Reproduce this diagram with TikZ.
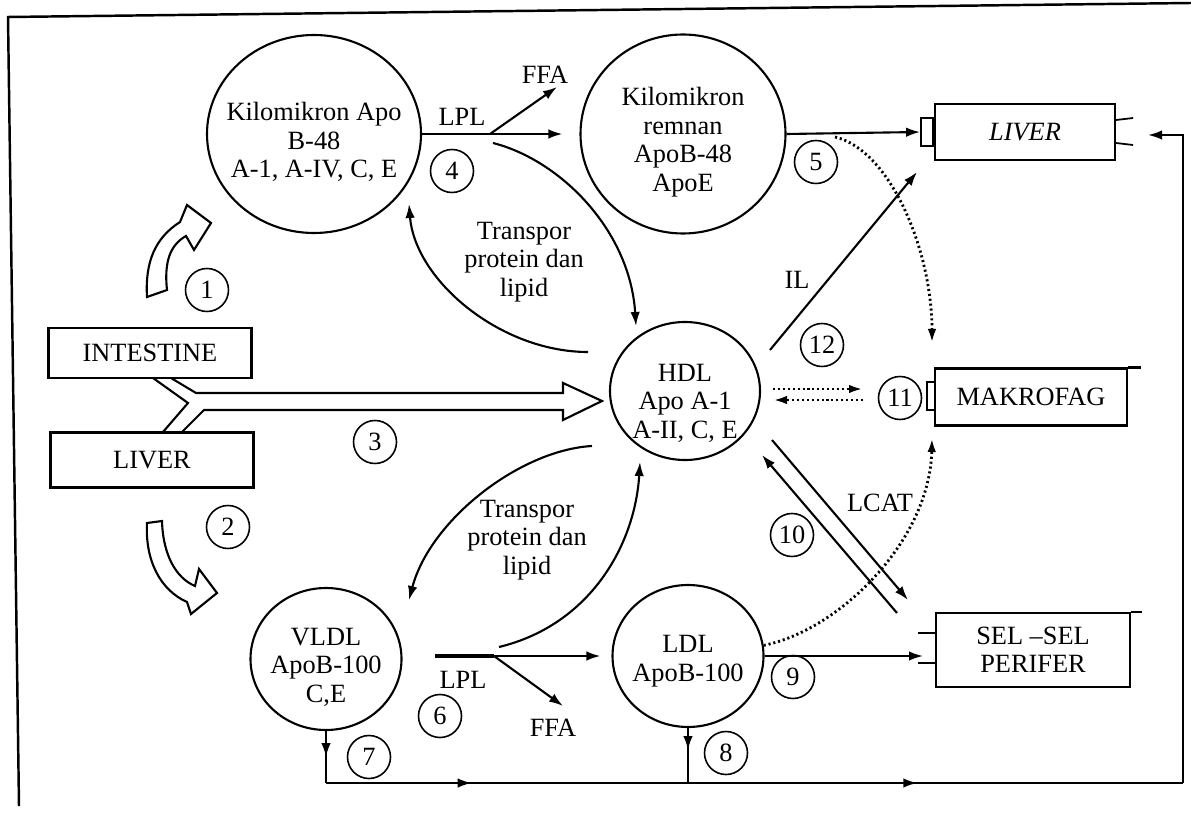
\documentclass[tikz,border=0pt]{standalone}
\usepackage{fontspec}
\setmainfont{Liberation Serif}
\usetikzlibrary{arrows.meta,positioning,shapes.geometric,decorations.markings}

\newcommand{\diagfont}{\fontsize{15}{16.2}\selectfont}

\tikzset{
  lipo/.style={ellipse,draw,line width=1.2pt,inner sep=0pt},
  lipotxt/.style={align=center,yshift=-1.6mm},
  organ/.style={rectangle,draw,line width=1.2pt,inner sep=0pt},
  recep/.style={rectangle,draw,line width=1pt,inner sep=0pt},
  num/.style={circle,draw,line width=0.9pt,minimum size=8.6mm,inner sep=0pt},
  flow/.style={line width=1.2pt,-{Latex[length=2.8mm,width=1.9mm]}},
  dotflow/.style={line width=1.6pt,dash pattern=on 1.2pt off 1.6pt,
                  -{Latex[length=2.8mm,width=1.7mm]}},
  hollow/.style={draw,fill=white,line width=1.2pt,line join=miter},
  midhead/.style={postaction={decorate,decoration={markings,
      mark=at position #1 with {\arrow{Latex[length=2.8mm,width=1.9mm]}}}}}
}

\begin{document}
\begin{tikzpicture}[x=0.2mm,y=-0.2mm,font=\diagfont]
\useasboundingbox (0,0) rectangle (1191,814);

% border of the scanned page
\draw[line width=1.4pt] (1191,3) -- (8,17) -- (19,806);

% organs and cells
\node[organ,minimum width=40.6mm,minimum height=10mm] (intest) at (150,353) {INTESTINE};
\node[organ,minimum width=40.6mm,minimum height=11mm] (liverL) at (152,460) {LIVER};
\node[organ,minimum width=36mm,minimum height=11.2mm,font=\diagfont\itshape] (liverR) at (1025,132) {LIVER};
\node[recep,minimum width=2.4mm,minimum height=5.6mm] (liverRec) at (927,132) {};
\node[organ,minimum width=38.4mm,minimum height=11.4mm] (makro) at (1031,397) {MAKROFAG};
\node[recep,minimum width=1.6mm,minimum height=5.6mm] (makroRec) at (931,396) {};
\node[organ,minimum width=38.8mm,minimum height=14.8mm,align=center] (sel) at (1033,650) {SEL –SEL\\PERIFER};
\draw[line width=1.2pt] (makro.north east) -- ++(13,0);
\draw[line width=1.2pt] (sel.north east) -- ++(11,0);
\draw[line width=1pt] ([yshift=2.4mm]liverR.east) -- ++(17,-2)
                      ([yshift=-2.2mm]liverR.east) -- ++(17,2);
\draw[line width=1pt] ([yshift=3.4mm]sel.west) -- ++(-17,0)
                      ([yshift=-2.6mm]sel.west) -- ++(-17,0);

% lipoproteins
\node[lipo,minimum width=42.8mm,minimum height=39.6mm,
      label={[lipotxt]center:{Kilomikron Apo\\B-48\\A-1, A-IV, C, E}}] (kilo) at (314,134) {};
\node[lipo,minimum width=41mm,minimum height=39.8mm,
      label={[lipotxt]center:{Kilomikron\\remnan\\ApoB-48\\ApoE}}] (remnan) at (683,134) {};
\node[lipo,minimum width=30mm,minimum height=27.6mm,
      label={[lipotxt,yshift=-0.8mm]center:{HDL\\Apo A-1\\A-II, C, E}}] (hdl) at (685,391) {};
\node[lipo,minimum width=30.2mm,minimum height=28.4mm,
      label={[lipotxt]center:{VLDL\\ApoB-100\\C,E}}] (vldl) at (326,659) {};
\node[lipo,minimum width=30.2mm,minimum height=28.4mm,
      label={[lipotxt,yshift=0.6mm]center:{LDL\\ApoB-100}}] (ldl) at (688,656) {};

% step numbers
\node[num] (n1) at (207,290) {1};
\node[num] (n2) at (228,527) {2};
\node[num] (n3) at (375,442) {3};
\node[num] (n4) at (452,171) {4};
\node[num] (n5) at (816,162) {5};
\node[num] (n6) at (440,716) {6};
\node[num] (n7) at (369,757) {7};
\node[num] (n8) at (726,753) {8};
\node[num] (n9) at (793,677) {9};
\node[num] (n10) at (792,535) {10};
\node[num] (n11) at (900,398) {11};
\node[num] (n12) at (822,345) {12};

% labels
\node (lplUp) at (462,117) {LPL};
\node (ffaUp) at (545,75) {FFA};
\node[align=center] (trUp) at (524,262) {Transpor\\protein dan\\lipid};
\node[align=center] (trLo) at (527,540) {Transpor\\protein dan\\lipid};
\node (lplLo) at (463,680) {LPL};
\node (ffaLo) at (553,728) {FFA};
\node (il) at (797,280) {IL};
\node (lcat) at (880,503) {LCAT};

% hollow arrows out of intestine and liver
\draw[hollow] (147,297) .. controls (145,262) and (155,238) .. (180,222) -- (187,205)
  -- (211,223) -- (194,250) -- (186,236) .. controls (170,245) and (164,262) .. (167,290) -- cycle;
\draw[hollow] (147,523) .. controls (145,560) and (160,590) .. (187,602) -- (191,614)
  -- (217,593) -- (199,569) -- (195,586) .. controls (176,578) and (163,555) .. (162,521) -- cycle;
\draw[line width=1.2pt,line join=miter] (153,378) -- (188,403) -- (163,432);
\draw[line width=1.2pt,line join=miter] (171,378) -- (196,393) -- (563,393) -- (563,383) -- (602,401)
  -- (563,420) -- (563,410) -- (204,410) -- (182,432);

% chylomicron and LPL
\coordinate (lplK) at (490,134);
\coordinate (cK) at (493,143);
\coordinate (hdlTop) at (636,326);
\coordinate (tpK) at (588,352);
\coordinate (kiloIn) at (409,204);
\draw[flow] (kilo.east) -- ([xshift=-3.4mm]remnan.west);
\draw[flow] (lplK) -- ++(67,-47);
\draw[flow] (cK) .. controls (560,160) and (630,230) .. (hdlTop);
\draw[flow] (tpK) .. controls (500,352) and (415,280) .. (kiloIn);

% remnant
\coordinate (dK) at (835,137);
\coordinate (mkT) at (932,343);
\draw[flow] (remnan.east) -- (liverRec.west);
\draw[dotflow] (dK) .. controls (890,150) and (932,250) .. (mkT);

% HDL
\coordinate (ilS) at (770,350);
\coordinate (ilE) at (917,172);
\coordinate (hm1) at (773,389);
\coordinate (hm2) at (863,389);
\coordinate (hm3) at (863,400);
\coordinate (hm4) at (773,400);
\coordinate (lcA1) at (772,440);
\coordinate (lcA2) at (908,600);
\coordinate (lcB1) at (897,613);
\coordinate (lcB2) at (762,455);
\draw[flow] (ilS) -- (ilE);
\draw[dotflow] (hm1) -- (hm2);
\draw[dotflow] (hm3) -- (hm4);
\draw[flow] (lcA1) -- (lcA2);
\draw[flow] (lcB1) -- (lcB2);

% VLDL and LPL
\coordinate (lplV0) at (435,656);
\coordinate (lplV) at (494,656);
\coordinate (cV) at (499,647);
\coordinate (hdlBot) at (640,462);
\coordinate (tpV) at (592,446);
\coordinate (vldlIn) at (409,600);
\draw[flow] (lplV0) -- ([xshift=-2.2mm]ldl.west);
\draw[line width=2.2pt] (lplV0) -- (lplV);
\draw[flow] (lplV) -- ++(69,50);
\draw[flow] (cV) .. controls (590,625) and (635,545) .. (hdlBot);
\draw[flow] (tpV) .. controls (520,450) and (430,520) .. (vldlIn);

% LDL
\coordinate (selIn) at (923,656);
\coordinate (mkB) at (932,438);
\draw[flow] (ldl.east) -- (selIn);
\draw[dotflow] (ldl.8) .. controls (840,630) and (930,540) .. (mkB);

% return to liver
\coordinate (b1) at (326,783);
\coordinate (b2) at (1183,783);
\coordinate (fbE) at (1148,135);
\draw[line width=1.2pt,midhead=0.5] (vldl.south) -- (b1);
\draw[line width=1.2pt,midhead=0.4] (ldl.south) -- (ldl.south |- b1);
\draw[line width=1.2pt,midhead=0.17,midhead=0.69] (b1) -- (b2);
\draw[flow] (b2) |- (fbE);
\end{tikzpicture}
\end{document}
